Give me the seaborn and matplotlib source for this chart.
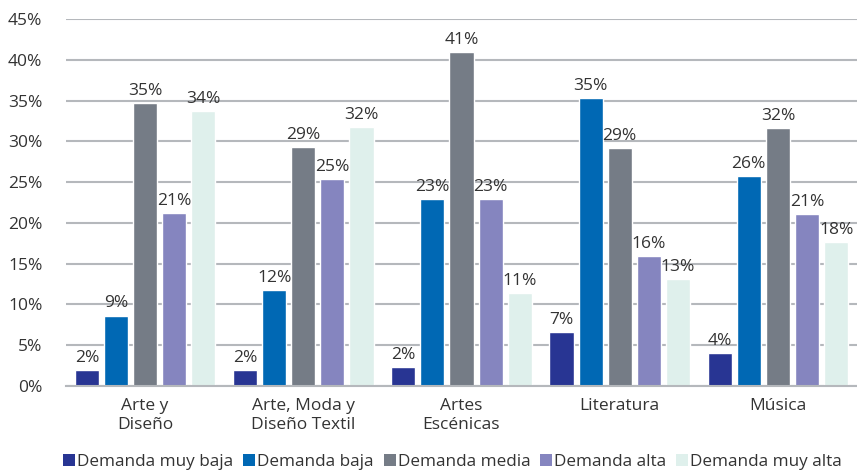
import matplotlib
matplotlib.use("Agg")
import matplotlib.pyplot as plt
from matplotlib.patches import Patch
import seaborn as sns
import pandas as pd

categories = ["Arte y\nDiseño", "Arte, Moda y\nDiseño Textil", "Artes\nEscénicas", "Literatura", "Música"]
series = ["Demanda muy baja", "Demanda baja", "Demanda media", "Demanda alta", "Demanda muy alta"]
muy_baja = [1.9, 1.9, 2.3, 6.6, 4.0]
baja = [8.6, 11.7, 22.9, 35.3, 25.7]
media = [34.7, 29.3, 41.0, 29.2, 31.6]
alta = [21.2, 25.4, 22.9, 15.9, 21.1]
muy_alta = [33.7, 31.8, 11.4, 13.1, 17.6]
yticks = [0, 5, 10, 15, 20, 25, 30, 35, 40, 45]

colors = ["#283593", "#0068b4", "#757c86", "#8585bf", "#dff0ec"]

rows = []
for name, vals in zip(series, [muy_baja, baja, media, alta, muy_alta]):
    for cat, v in zip(categories, vals):
        rows.append({"cat": cat, "serie": name, "valor": v})
df = pd.DataFrame(rows)

sns.set_theme(style="white")
plt.rcParams["font.family"] = ["Open Sans", "DejaVu Sans"]
text_color = "#333333"

fig = plt.figure(figsize=(8.57, 4.72), dpi=100)
ax = fig.add_axes([0.077, 0.183, 0.923, 0.776])

sns.barplot(data=df, x="cat", y="valor", hue="serie", order=categories,
            hue_order=series, palette=colors, width=0.92, gap=0.17,
            saturation=1, ax=ax, legend=False, errorbar=None)

for container in ax.containers:
    ax.bar_label(container, labels=[f"{b.get_height():.0f}%" for b in container],
                 padding=3, fontsize=12.5, color=text_color)

ax.set_ylim(0, 45)
ax.set_xlim(-0.5, 4.5)
ax.set_yticks(yticks)
ax.set_yticklabels([f"{t}%" for t in yticks], fontsize=12.5, color=text_color)
ax.tick_params(axis="y", length=0, pad=17)
ax.tick_params(axis="x", length=0, pad=9, labelsize=12.5, labelcolor=text_color)
for lbl in ax.get_xticklabels():
    lbl.set_linespacing(1.25)
ax.set_xlabel("")
ax.set_ylabel("")
ax.yaxis.grid(True, color="#b5b8bc", linewidth=1.5)
ax.set_axisbelow(True)
for s in ["top", "right", "left"]:
    ax.spines[s].set_visible(False)
ax.spines["bottom"].set_color("#b5b8bc")
ax.spines["bottom"].set_linewidth(1.5)

handles = [Patch(facecolor=c, edgecolor="none", label=s) for c, s in zip(colors, series)]
fig.legend(handles=handles, loc="lower left", bbox_to_anchor=(0.062, -0.018), ncol=5,
           frameon=False, fontsize=12.3, handlelength=0.7, handleheight=0.7,
           handletextpad=0.1, columnspacing=0.6, borderaxespad=0.2, labelcolor=text_color)

fig.savefig("out.png", dpi=100)
